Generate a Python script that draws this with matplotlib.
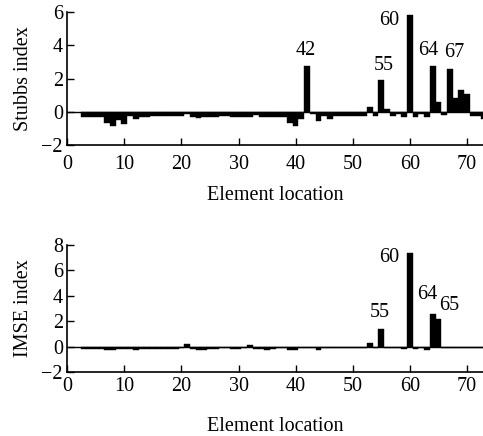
import numpy as np
import matplotlib
matplotlib.use("Agg")
import matplotlib.pyplot as plt

plt.rcParams['font.family'] = ['Liberation Serif', 'DejaVu Serif']

elements = list(range(3, 74))

stubbs = [-0.3, -0.3, -0.3, -0.3, -0.65, -0.85, -0.5, -0.7, -0.25, -0.45,   # 3-12
          -0.3, -0.3, -0.25, -0.25, -0.25, -0.25, -0.25, -0.25, -0.15, -0.3,  # 13-22
          -0.35, -0.3, -0.3, -0.3, -0.25, -0.25, -0.3, -0.3, -0.3, -0.3,     # 23-32
          -0.2, -0.3, -0.3, -0.3, -0.3, -0.3, -0.65, -0.85, -0.4, 2.75,      # 33-42
          -0.1, -0.55, -0.25, -0.4, -0.25, -0.25, -0.25, -0.25, -0.25, -0.25, # 43-52
          0.3, -0.25, 1.9, 0.2, -0.25, -0.15, -0.3, 5.85, -0.3, -0.15,       # 53-62
          -0.3, 2.75, 0.6, -0.2, 2.6, 0.85, 1.3, 1.05, -0.25, -0.25,         # 63-72
          -0.4]                                                              # 73

imse = [-0.2, -0.2, -0.2, -0.2, -0.3, -0.3, -0.2, -0.2, -0.2, -0.3,       # 3-12
        -0.2, -0.2, -0.2, -0.2, -0.2, -0.2, -0.2, -0.15, 0.2, -0.2,         # 13-22
        -0.25, -0.25, -0.2, -0.2, -0.1, -0.1, -0.2, -0.2, -0.15, 0.1,       # 23-32
        -0.2, -0.2, -0.25, -0.2, -0.1, -0.1, -0.3, -0.3, -0.15, -0.1,       # 33-42
        -0.15, -0.3, -0.15, -0.15, -0.15, -0.15, -0.15, -0.15, -0.15, -0.15, # 43-52
        0.3, -0.15, 1.4, -0.1, -0.1, -0.15, -0.2, 7.4, -0.2, -0.1,          # 53-62
        -0.25, 2.6, 2.2, -0.1, -0.1, -0.1, -0.1, -0.1, -0.1, -0.1,          # 63-72
        -0.1]                                                               # 73

stubbs_labels = [("42", 41.7, 3.7), ("55", 55.4, 2.8), ("60", 56.4, 5.5),
                 ("64", 63.3, 3.7), ("67", 67.7, 3.55)]
imse_labels = [("55", 54.7, 2.65), ("60", 56.3, 7.0),
               ("64", 63.0, 4.1), ("65", 66.9, 3.2)]

fig = plt.figure(figsize=(4.83, 4.36), dpi=100)
ax1 = fig.add_axes([0.139, 0.667, 0.861, 0.305])
ax2 = fig.add_axes([0.139, 0.147, 0.861, 0.291])


def style(ax, vals, labels, ylim, yticks, ylabel, xpad, xlabelpad):
    ax.bar(elements, vals, width=1.0, color='black', edgecolor='black', linewidth=0.3)
    ax.axhline(0, color='black', lw=1.0)
    for txt, x, y in labels:
        ax.text(x, y, txt, ha='center', va='center', fontsize=14.5)
    ax.set_xlim(0, 72.8)
    ax.set_ylim(*ylim)
    ax.set_yticks(yticks)
    ax.set_yticklabels([str(t).replace('-', '\u2212') for t in yticks])
    ax.set_xticks(range(0, 80, 10))
    ax.spines['top'].set_visible(False)
    ax.spines['right'].set_visible(False)
    ax.spines['left'].set_linewidth(1.2)
    ax.spines['bottom'].set_linewidth(1.2)
    ax.tick_params(direction='in', length=5, width=1, labelsize=14.5, pad=3)
    ax.tick_params(axis='x', pad=xpad)
    ax.set_ylabel(ylabel, fontsize=14.5, labelpad=6)
    ax.set_xlabel('Element location', fontsize=14.5, labelpad=xlabelpad)


style(ax1, stubbs, stubbs_labels, (-2, 6), [-2, 0, 2, 4, 6], 'Stubbs index', 7, 9)
style(ax2, imse, imse_labels, (-2, 8), [-2, 0, 2, 4, 6, 8], 'IMSE index', 4, 15)

fig.savefig('out.png', dpi=100)
